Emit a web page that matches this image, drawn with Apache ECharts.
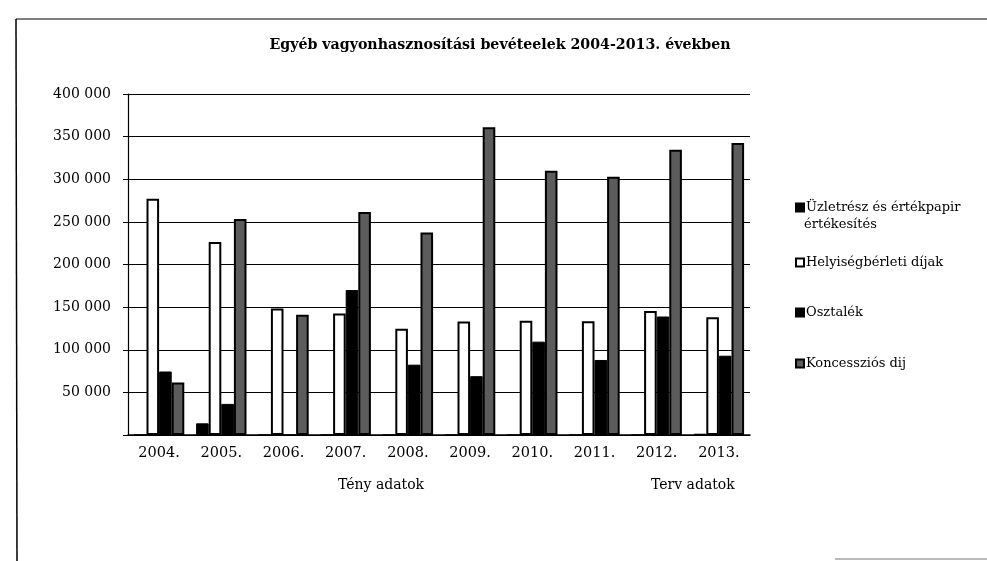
<!DOCTYPE html>
<html>
<head>
<meta charset="utf-8">
<script src="https://cdn.jsdelivr.net/npm/echarts@6/dist/echarts.min.js"></script>
<style>
  html, body { margin: 0; padding: 0; background: #fff; }
  #chart { width: 987px; height: 561px; }
</style>
</head>
<body>
<div id="chart"></div>
<script>
// data
var years = ['2004.', '2005.', '2006.', '2007.', '2008.', '2009.', '2010.', '2011.', '2012.', '2013.'];
var yTicks = [0, 50000, 100000, 150000, 200000, 250000, 300000, 350000, 400000];
var uzletresz = [0, 13700, 0, 0, 0, 0, 0, 0, 0, 1500];
var helyiseg = [277000, 226500, 148500, 142500, 124500, 133000, 134000, 133500, 145500, 138000];
var osztalek = [74500, 36500, 0, 170000, 82500, 69000, 109500, 88000, 139000, 93000];
var koncesszio = [61500, 253500, 141000, 261500, 237500, 361000, 310000, 303000, 334500, 342500];
var seriesNames = ['Üzletrész és értékpapir értékesítés', 'Helyiségbérleti díjak', 'Osztalék', 'Koncessziós dij'];

var FONT = 'DejaVu Serif';
var chart = echarts.init(document.getElementById('chart'));

function fmt(v) {
    if (v === 0) return '';
    return String(v).replace(/\B(?=(\d{3})+(?!\d))/g, ' ');
}

function legendAt(name, top) {
    return {
        data: [{ name: name, icon: 'rect' }],
        orient: 'vertical',
        left: 790,
        top: top,
        itemWidth: 8,
        itemHeight: 8,
        itemGap: 0,
        selectedMode: false,
        textStyle: { fontFamily: FONT, fontSize: 13, color: '#000', padding: [0, 0, 0, -3] },
        formatter: function (n) {
            // second line of the first entry is drawn as a graphic below
            return n === seriesNames[0] ? 'Üzletrész és értékpapir' : n;
        }
    };
}

var option = {
    backgroundColor: '#fff',
    animation: false,
    title: {
        text: 'Egyéb vagyonhasznosítási bevéteelek 2004-2013. években',
        left: 495,
        top: 33,
        textAlign: 'center',
        textStyle: { fontFamily: FONT, fontSize: 14.2, fontWeight: 'bold', color: '#000' }
    },
    legend: [
        legendAt(seriesNames[0], 196),
        legendAt(seriesNames[1], 251),
        legendAt(seriesNames[2], 301),
        legendAt(seriesNames[3], 352)
    ],
    grid: { left: 128, right: 237, top: 94, bottom: 126 },
    xAxis: {
        type: 'category',
        data: years,
        axisLine: { lineStyle: { color: '#000', width: 1.5 } },
        axisTick: { show: false },
        axisLabel: { fontFamily: FONT, fontSize: 14.5, color: '#000', margin: 11 }
    },
    yAxis: {
        type: 'value',
        min: yTicks[0],
        max: yTicks[yTicks.length - 1],
        interval: yTicks[1] - yTicks[0],
        axisLine: { show: true, lineStyle: { color: '#000', width: 1.2 } },
        axisTick: { show: true, length: 5, lineStyle: { color: '#000' } },
        splitLine: { lineStyle: { color: '#000', width: 1 } },
        axisLabel: { fontFamily: FONT, fontSize: 14, color: '#000', margin: 17, formatter: fmt }
    },
    graphic: [
        { type: 'text', left: 804, top: 218, style: { text: 'értékesítés', font: '13px "DejaVu Serif"', fill: '#000' } },
        { type: 'text', left: 338, top: 478, style: { text: 'Tény adatok', font: '14px "DejaVu Serif"', fill: '#000' } },
        { type: 'text', left: 651, top: 478, style: { text: 'Terv adatok', font: '14px "DejaVu Serif"', fill: '#000' } },
        { type: 'line', shape: { x1: 16, y1: 19, x2: 987, y2: 19 }, style: { stroke: '#000', lineWidth: 1.2 } },
        { type: 'line', shape: { x1: 16, y1: 19, x2: 17, y2: 561 }, style: { stroke: '#000', lineWidth: 1.5 } },
        { type: 'line', shape: { x1: 835, y1: 559, x2: 987, y2: 559 }, style: { stroke: '#777', lineWidth: 1 } }
    ],
    series: [
        { name: seriesNames[0], type: 'bar', data: uzletresz, barGap: 0, barCategoryGap: '19%',
          itemStyle: { color: '#000', borderColor: '#000', borderWidth: 1 } },
        { name: seriesNames[1], type: 'bar', data: helyiseg,
          itemStyle: { color: '#fff', borderColor: '#000', borderWidth: 2 } },
        { name: seriesNames[2], type: 'bar', data: osztalek,
          itemStyle: { color: '#000', borderColor: '#000', borderWidth: 1 } },
        { name: seriesNames[3], type: 'bar', data: koncesszio,
          itemStyle: { color: '#5c5c5c', borderColor: '#000', borderWidth: 2 } }
    ]
};

chart.setOption(option);
</script>
</body>
</html>
